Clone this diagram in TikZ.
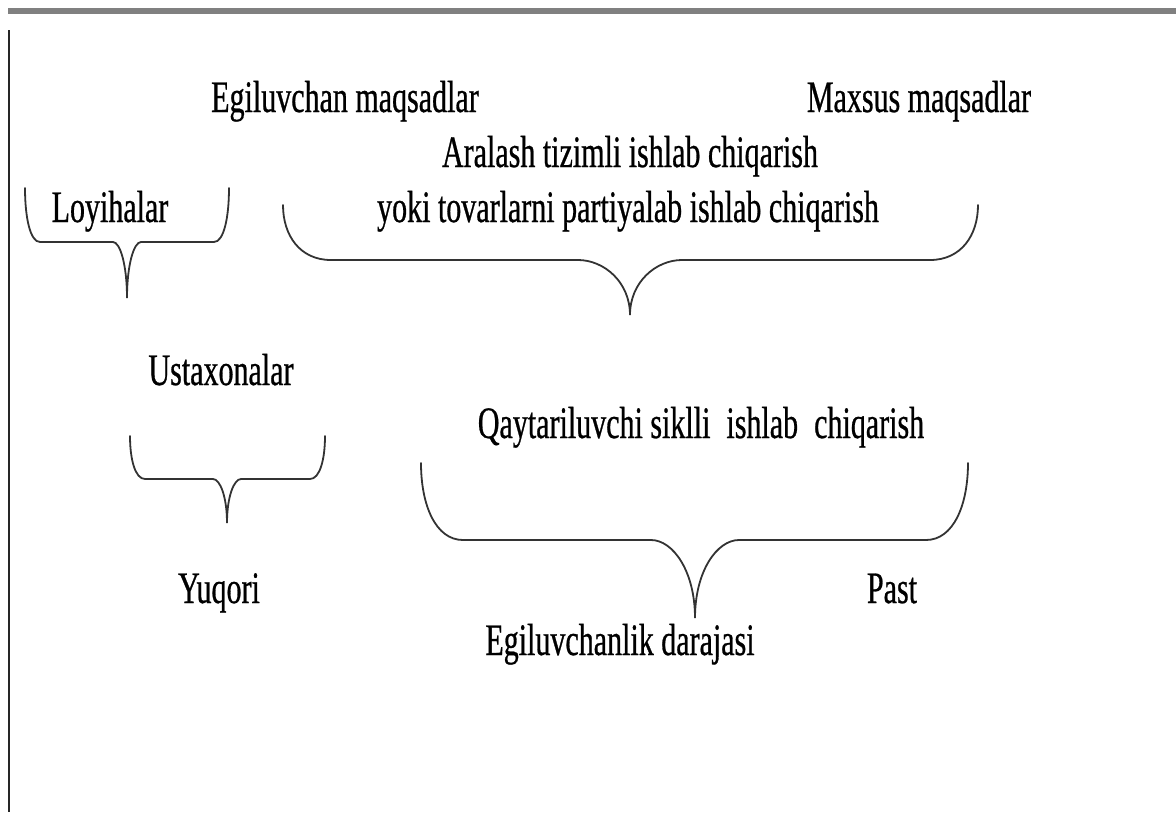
\documentclass[tikz,border=0pt]{standalone}
\usepackage{fontspec}
\setmainfont{Liberation Serif}[FakeStretch=0.667,FakeBold=0.6]

% Curly brace opening downwards:
% #1 left x, #2 right x, #3 top y of the ends, #4 y of the bar,
% #5 x of the tip, #6 y of the tip, #7 width of the end corners, #8 half width of the cusp
\newcommand{\curlybrace}[8]{%
  \draw[bracestyle] (#1,#3)
    .. controls (#1,{#3+0.55*(#4-#3)}) and ({#1+0.35*#7},#4) .. ({#1+#7},#4)
    -- ({#5-#8},#4)
    .. controls ({#5-0.5*#8},#4) and (#5,{#4+0.4*(#6-#4)}) .. (#5,#6)
    .. controls (#5,{#4+0.4*(#6-#4)}) and ({#5+0.5*#8},#4) .. ({#5+#8},#4)
    -- ({#2-#7},#4)
    .. controls ({#2-0.35*#7},#4) and (#2,{#3+0.55*(#4-#3)}) .. (#2,#3);}

\begin{document}
\begin{tikzpicture}[x=1pt,y=-1pt,
  lbl/.style={anchor=base,inner sep=0pt,font=\fontsize{45}{54}\selectfont},
  bracestyle/.style={line width=1.8pt,draw=black!80,line cap=round},
  topline/.style={line width=6pt,draw=black!50},
  sideline/.style={line width=2pt,draw=black!85}]
\useasboundingbox (0,0) rectangle (1176,812);

% frame lines
\draw[topline] (8,11) -- (1176,11);
\draw[sideline] (9,30) -- (9,812);

% labels
\node[lbl] (egil)   at (345,112) {Egiluvchan maqsadlar};
\node[lbl] (maxsus) at (919,112) {Maxsus maqsadlar};
\node[lbl] (aral1)  at (630,167) {Aralash tizimli ishlab chiqarish};
\node[lbl] (aral2)  at (628,222) {yoki tovarlarni partiyalab ishlab chiqarish};
\node[lbl] (loy)    at (110,222) {Loyihalar};
\node[lbl] (ustax)  at (221,385) {Ustaxonalar};
\node[lbl] (qayt)   at (701,438) {Qaytariluvchi siklli\hspace{16pt}ishlab\hspace{16pt}chiqarish};
\node[lbl] (yuq)    at (219,603) {Yuqori};
\node[lbl] (past)   at (892,603) {Past};
\node[lbl] (daraja) at (620,655) {Egiluvchanlik darajasi};

% braces
\curlybrace{25}{229}{188}{242}{127}{298}{15}{14}
\curlybrace{283}{978}{205}{260}{630}{315}{48}{52}
\curlybrace{130}{325}{436}{479}{227}{523}{15}{14}
\curlybrace{421}{968}{463}{540}{695}{618}{42}{44}
\end{tikzpicture}
\end{document}
